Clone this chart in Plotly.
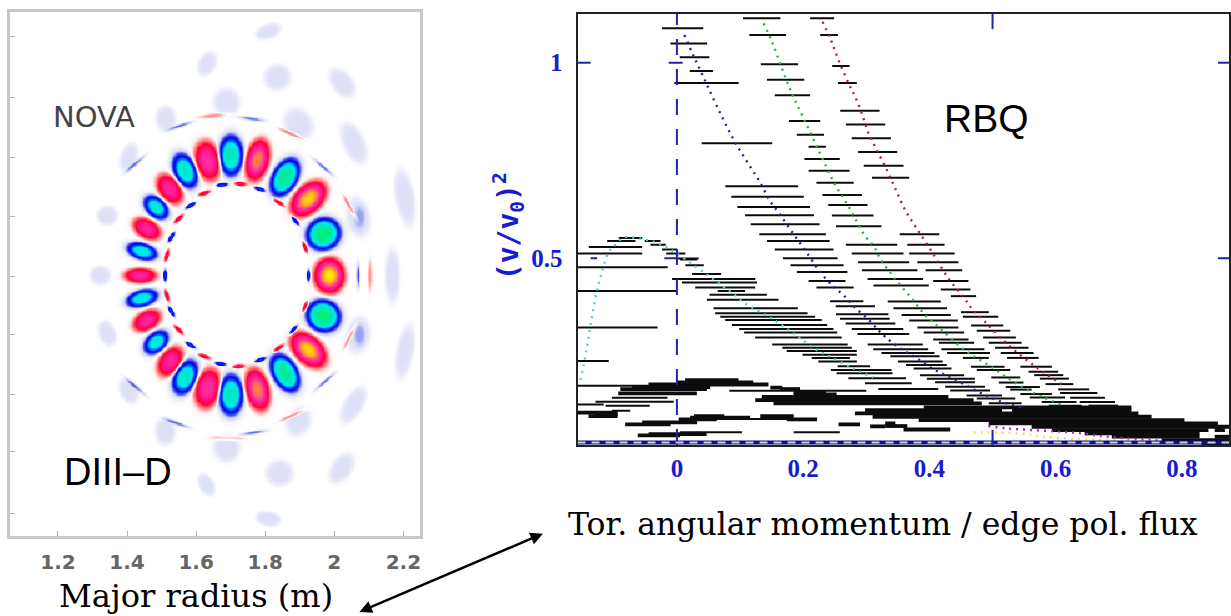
import numpy as np
import plotly.graph_objects as go

W, H = 1231, 616

# ---------- left panel: mode structure ----------
x_ticks_left = [1.2, 1.4, 1.6, 1.8, 2.0, 2.2]
x_tick_text_left = ["1.2", "1.4", "1.6", "1.8", "2", "2.2"]
y_ticks_left = [0.691, 0.517, 0.344, 0.171, 0.0, -0.169, -0.342, -0.508, -0.685]
ring_centre = (1.699, 0.003)

main_R = [1.984, 1.967, 1.9235, 1.856, 1.776, 1.699, 1.632, 1.567, 1.522, 1.483, 1.456, 1.442, 1.437, 1.442,
          1.967, 1.9235, 1.856, 1.776, 1.699, 1.632, 1.567, 1.524, 1.483, 1.456]
main_Z = [0.003, 0.123, 0.2245, 0.287, 0.337, 0.350, 0.335, 0.306, 0.253, 0.200, 0.138, 0.073, 0.003, -0.063,
          -0.1137, -0.212, -0.279, -0.327, -0.342, -0.323, -0.291, -0.2457, -0.19, -0.127]
main_amp = [1.0, -1.0, 0.95, -0.9, 0.78, -0.75, 0.58, -0.68, 0.52, -0.62, 0.52, -0.62, 0.52, -0.62,
            -1.0, 0.95, -0.9, 0.78, -0.75, 0.58, -0.68, 0.52, -0.62, 0.52]
main_radial = [0.052, 0.061, 0.072, 0.072, 0.072, 0.072, 0.067, 0.064, 0.055, 0.050, 0.050, 0.055, 0.055, 0.057,
               0.061, 0.072, 0.072, 0.072, 0.072, 0.067, 0.064, 0.055, 0.050, 0.050]
main_tang = [0.061, 0.056, 0.046, 0.044, 0.040, 0.044, 0.044, 0.041, 0.037, 0.034, 0.032, 0.029, 0.025, 0.029,
             0.056, 0.046, 0.044, 0.040, 0.044, 0.044, 0.041, 0.037, 0.034, 0.032]

inner_R = [1.509, 1.514, 1.527, 1.548, 1.582, 1.622, 1.673, 1.726, 1.782, 1.837, 1.885, 1.914, 1.924,
           1.527, 1.548, 1.582, 1.622, 1.668, 1.721, 1.784, 1.837, 1.880, 1.914, 1.514]
inner_Z = [0.003, 0.061, 0.114, 0.167, 0.205, 0.241, 0.265, 0.268, 0.253, 0.215, 0.162, 0.085, 0.003,
           -0.101, -0.154, -0.198, -0.231, -0.252, -0.260, -0.241, -0.207, -0.154, -0.087, -0.055]
inner_amp = [-0.35, 0.3, -0.35, 0.3, -0.35, 0.3, -0.35, 0.3, -0.35, 0.3, -0.35, 0.3, -0.35,
             -0.35, 0.3, -0.35, 0.3, -0.35, 0.3, -0.35, 0.3, -0.35, 0.3, 0.3]

outer_R = [1.553, 1.649, 1.760, 1.875, 1.967, 2.044, 2.068, 2.102, 1.423, 2.044, 1.972, 1.880, 1.765, 1.687, 1.543, 1.423]
outer_Z = [0.436, 0.465, 0.456, 0.412, 0.316, 0.200, 0.003, 0.003, 0.326, -0.173, -0.303, -0.400, -0.451, -0.467, -0.424, -0.318]
outer_amp = [-0.13, 0.08, -0.13, 0.12, -0.13, 0.12, -0.15, 0.08, -0.12, 0.12, -0.13, 0.12, -0.13, 0.08, -0.13, -0.12]

strong_R = [2.072, 2.072]
strong_Z = [0.171, -0.169]
strong_amp = [-0.055, -0.055]

faint_R = [1.808, 1.630, 1.834, 2.022, 1.687, 1.511, 1.895, 2.055, 1.403, 2.203, 2.068, 1.341, 1.321, 2.167,
           1.341, 2.203, 2.068, 2.054, 1.895, 2.020, 1.509, 1.687, 1.840, 1.628, 1.808, 1.403]
faint_Z = [0.709, 0.615, 0.576, 0.559, 0.504, 0.456, 0.441, 0.385, 0.345, 0.229, 0.171, 0.176, 0.003, 0.003,
           -0.164, -0.217, -0.169, -0.371, -0.419, -0.554, -0.448, -0.496, -0.568, -0.602, -0.700, -0.332]
faint_a = [0.037, 0.037, 0.039, 0.048, 0.040, 0.037, 0.048, 0.063, 0.043, 0.082, 0.058, 0.030, 0.029, 0.077,
           0.037, 0.077, 0.053, 0.058, 0.043, 0.048, 0.039, 0.040, 0.039, 0.034, 0.037, 0.039]
faint_b = [0.021, 0.024, 0.037, 0.029, 0.039, 0.029, 0.039, 0.031, 0.024, 0.027, 0.034, 0.027, 0.027, 0.021,
           0.024, 0.024, 0.034, 0.027, 0.034, 0.029, 0.029, 0.039, 0.037, 0.021, 0.021, 0.024]
faint_angle = [20, 60, 0, -50, 90, 90, -50, -65, 70, -80, -80, 0, 0, 90,
               -70, 80, 80, 60, 60, 55, 90, 90, 0, -60, -10, -60]

# ---------- right panel ----------
x_tick_right = [0, 0.2, 0.4, 0.6, 0.8]
x_tick_text_right = ["0", "0.2", "0.4", "0.6", "0.8"]
y_tick_right = [0.5, 1]
y_tick_text_right = ["0.5", "1"]

# rows are (energy, x start, x end)
blue_rows = [(1.088, -0.0236, 0.0417), (1.049, -0.0103, 0.0478), (1.014, 0.0045, 0.0514), (0.979, 0.0203, 0.0572),
             (0.948, -0.004, 0.0978), (0.794, 0.0393, 0.151), (0.684, 0.0767, 0.192), (0.657, 0.0862, 0.201),
             (0.631, 0.0957, 0.211), (0.610, 0.108, 0.217), (0.587, 0.117, 0.226), (0.561, 0.1305, 0.236),
             (0.544, 0.1427, 0.242), (0.522, 0.155, 0.248), (0.500, 0.168, 0.2545), (0.482, 0.180, 0.264),
             (0.465, 0.190, 0.270), (0.442, 0.2086, 0.267), (0.425, 0.221, 0.280), (0.390, 0.2426, 0.2954),
             (0.377, 0.2516, 0.3138), (0.357, 0.252, 0.335), (0.345, 0.2584, 0.337), (0.333, 0.2674, 0.346),
             (0.319, 0.277, 0.3585), (0.306, 0.286, 0.368), (0.2796, 0.3022, 0.3895), (0.267, 0.311, 0.398),
             (0.2575, 0.324, 0.408), (0.249, 0.338, 0.416), (0.236, 0.350, 0.421), (0.227, 0.363, 0.4275),
             (0.218, 0.375, 0.435), (0.201, 0.385, 0.455), (0.192, 0.396, 0.472), (0.1825, 0.409, 0.472),
             (0.1714, 0.425, 0.488), (0.162, 0.433, 0.496), (0.149, 0.459, 0.515), (0.141, 0.475, 0.536),
             (0.129, 0.494, 0.546), (0.1185, 0.520, 0.575)]
green_rows = [(1.114, 0.1047, 0.164), (1.071, 0.1147, 0.173), (0.996, 0.133, 0.192), (0.9565, 0.1427, 0.2017),
              (0.917, 0.155, 0.211), (0.851, 0.1775, 0.227), (0.816, 0.190, 0.233), (0.785, 0.2086, 0.236),
              (0.754, 0.202, 0.258), (0.724, 0.2086, 0.2735), (0.693, 0.221, 0.280), (0.662, 0.2305, 0.293),
              (0.636, 0.2397, 0.302), (0.6095, 0.2455, 0.3115), (0.582, 0.252, 0.324), (0.5345, 0.2677, 0.349),
              (0.512, 0.277, 0.359), (0.490, 0.287, 0.368), (0.469, 0.293, 0.381), (0.447, 0.302, 0.390),
              (0.430, 0.3115, 0.399), (0.3896, 0.334, 0.418), (0.372, 0.343, 0.428), (0.355, 0.356, 0.434),
              (0.341, 0.368, 0.445), (0.323, 0.381, 0.446), (0.310, 0.391, 0.455), (0.292, 0.406, 0.462),
              (0.284, 0.415, 0.471), (0.267, 0.419, 0.487), (0.2575, 0.428, 0.496), (0.245, 0.453, 0.494),
              (0.2225, 0.466, 0.519), (0.214, 0.475, 0.528), (0.195, 0.498, 0.544), (0.182, 0.510, 0.549),
              (0.1705, 0.521, 0.575), (0.164, 0.528, 0.562), (0.1526, 0.544, 0.594), (0.144, 0.559, 0.615),
              (0.132, 0.578, 0.633), (0.123, 0.589, 0.641), (0.113, 0.603, 0.673)]
red_rows = [(1.114, 0.211, 0.249), (1.071, 0.227, 0.255), (0.9915, 0.246, 0.2735), (0.948, 0.255, 0.285),
            (0.877, 0.2587, 0.321), (0.842, 0.2677, 0.330), (0.807, 0.277, 0.339), (0.7715, 0.287, 0.349),
            (0.7366, 0.296, 0.359), (0.706, 0.309, 0.368), (0.561, 0.353, 0.4155), (0.5345, 0.365, 0.424),
            (0.512, 0.368, 0.440), (0.490, 0.381, 0.446), (0.469, 0.394, 0.452), (0.442, 0.406, 0.4618),
            (0.420, 0.418, 0.465), (0.403, 0.434, 0.474), (0.362, 0.450, 0.494), (0.350, 0.453, 0.509),
            (0.328, 0.466, 0.517), (0.3146, 0.475, 0.528), (0.2975, 0.485, 0.537), (0.284, 0.494, 0.546),
            (0.271, 0.504, 0.557), (0.2575, 0.513, 0.565), (0.245, 0.523, 0.573), (0.2225, 0.544, 0.594),
            (0.2097, 0.557, 0.604), (0.201, 0.566, 0.612), (0.192, 0.575, 0.621), (0.178, 0.584, 0.628),
            (0.1645, 0.604, 0.653), (0.155, 0.607, 0.666), (0.143, 0.623, 0.678), (0.132, 0.638, 0.694),
            (0.123, 0.652, 0.699)]
teal_rows = [(0.5516, -0.092, -0.055), (0.544, -0.1105, -0.0657), (0.544, -0.051, -0.026), (0.5345, -0.042, -0.0177),
             (0.529, -0.1395, -0.055), (0.522, -0.0235, 0.0003), (0.512, -0.1574, -0.055), (0.512, -0.017, 0.0134),
             (0.4996, 0.0, 0.0345), (0.497, 0.005, 0.032), (0.482, 0.0134, 0.0425), (0.477, -0.1574, -0.0145),
             (0.4595, 0.024, 0.07), (0.4467, -0.0077, 0.124), (0.438, 0.008, 0.1268), (0.425, 0.029, 0.124),
             (0.416, -0.1574, 0.0003), (0.416, 0.0646, 0.108), (0.4066, 0.0517, 0.1424), (0.394, 0.0475, 0.161),
             (0.372, 0.058, 0.1915), (0.359, 0.0607, 0.207), (0.350, 0.0686, 0.219), (0.342, 0.0765, 0.2294),
             (0.329, 0.087, 0.238), (0.323, -0.1574, -0.0306), (0.319, 0.0986, 0.248), (0.310, 0.1065, 0.254),
             (0.2975, 0.124, 0.261), (0.2796, 0.151, 0.2706), (0.271, 0.167, 0.277), (0.2626, 0.174, 0.285),
             (0.253, 0.199, 0.285), (0.245, 0.2136, 0.274), (0.237, -0.1574, -0.108), (0.236, 0.224, 0.285),
             (0.2234, 0.2547, 0.306), (0.214, 0.244, 0.34), (0.2055, 0.253, 0.3415), (0.1927, 0.2716, 0.363),
             (0.18, 0.298, 0.372), (0.1654, 0.319, 0.414), (0.174, -0.1574, 0.0), (0.161, 0.083, 0.30),
             (0.126, -0.1574, -0.116), (0.1228, -0.113, -0.043), (0.1432, -0.103, -0.015), (0.133, -0.129, -0.005),
             (0.11, -0.103, -0.074), (0.0546, 0.005, 0.103), (0.0546, 0.185, 0.258), (0.0885, 0.003, 0.19)]
mass_rows = [(0.1884, 0.013, 0.0976), (0.1824, 0.0, 0.121), (0.177, -0.045, 0.145), (0.1705, -0.071, 0.0527),
             (0.1654, -0.0897, 0.0475), (0.1543, -0.093, 0.0316), (0.169, 0.148, 0.167), (0.1654, 0.1635, 0.195),
             (0.158, 0.185, 0.236), (0.152, 0.1846, 0.253), (0.145, 0.1345, 0.43), (0.1373, 0.124, 0.47),
             (0.1287, 0.153, 0.483), (0.1185, 0.391, 0.72), (0.1117, 0.298, 0.515), (0.1117, 0.531, 0.72),
             (0.1032, 0.282, 0.731), (0.0946, 0.31, 0.752), (0.0861, 0.383, 0.804), (0.0776, 0.494, 0.857),
             (0.069, 0.562, 0.876), (0.0605, 0.594, 0.842), (0.0605, 0.852, 0.868), (0.052, 0.646, 0.828),
             (0.0435, 0.689, 0.828), (0.0435, 0.852, 0.876), (0.0349, 0.768, 0.879), (0.0264, 0.831, 0.879),
             (0.0196, 0.844, 0.879), (0.0776, 0.33, 0.346), (0.0708, 0.33, 0.365), (0.062, 0.359, 0.433),
             (0.1049, -0.1574, -0.094), (0.1005, -0.13, -0.094), (0.0963, -0.14, -0.094),
             (0.0963, 0.027, 0.075), (0.0963, 0.132, 0.185), (0.0925, 0.021, 0.116), (0.0878, 0.003, 0.063),
             (0.0878, 0.174, 0.222), (0.080, -0.055, 0.032), (0.075, -0.082, -0.01), (0.075, 0.256, 0.29),
             (0.07, 0.306, 0.33), (0.05, -0.045, 0.047), (0.047, -0.062, 0.005)]

blue_curve_x = [0.0119, 0.0266, 0.0435, 0.0636, 0.0899, 0.111, 0.131, 0.148, 0.164, 0.185, 0.203, 0.2225, 0.238, 0.2485,
                0.2643, 0.282, 0.303, 0.319, 0.33, 0.354, 0.380, 0.409, 0.441, 0.488, 0.514, 0.546]
blue_curve_y = [1.071, 1.0165, 0.958, 0.888, 0.803, 0.747, 0.696, 0.645, 0.610, 0.561, 0.521, 0.4745, 0.444, 0.427,
                0.405, 0.374, 0.344, 0.316, 0.299, 0.269, 0.244, 0.214, 0.189, 0.150, 0.133, 0.1185]
green_curve_x = [0.1374, 0.1506, 0.1664, 0.182, 0.2007, 0.2244, 0.248, 0.272, 0.298, 0.3115, 0.322, 0.3427, 0.369,
                 0.391, 0.417, 0.459, 0.4935, 0.525, 0.551, 0.578, 0.61]
green_curve_y = [1.1006, 1.0537, 0.9855, 0.9216, 0.8576, 0.7766, 0.6957, 0.632, 0.5567, 0.531, 0.4996, 0.4527, 0.403,
                 0.359, 0.3205, 0.261, 0.227, 0.1927, 0.167, 0.146, 0.1245]
red_curve_x = [0.2307, 0.243, 0.256, 0.272, 0.2824, 0.293, 0.3036, 0.314, 0.3326, 0.3458, 0.3617, 0.38, 0.4037, 0.430,
               0.4538, 0.467, 0.488, 0.525, 0.572, 0.612]
red_curve_y = [1.105, 1.062, 1.007, 0.947, 0.913, 0.870, 0.819, 0.785, 0.7255, 0.6785, 0.623, 0.576, 0.5166, 0.4484,
               0.4015, 0.3717, 0.3376, 0.278, 0.218, 0.1756]
cyan_curve_x = [-0.153, -0.1477, -0.1424, -0.1387, -0.1345, -0.1292, -0.1253, -0.12, -0.1158, -0.1079, -0.1, -0.084,
                -0.0525, -0.0235, 0.045, 0.074, 0.087, 0.108, 0.150, 0.1846, 0.198, 0.2215, 0.2426, 0.2795, 0.311]
cyan_curve_y = [0.1884, 0.2268, 0.2737, 0.312, 0.350, 0.397, 0.427, 0.457, 0.4825, 0.5166, 0.53, 0.553,
                0.548, 0.534, 0.461, 0.427, 0.412, 0.3845, 0.346, 0.3078, 0.292, 0.265, 0.248, 0.218, 0.195]
purple_curve_x = [0.4933, 0.5225, 0.5625, 0.61, 0.641, 0.668, 0.694, 0.726, 0.768]
purple_curve_y = [0.0708, 0.0648, 0.0605, 0.0563, 0.052, 0.046, 0.0418, 0.0375, 0.0332]
yellow_curve_x = [0.4697, 0.541, 0.583, 0.631, 0.71, 0.752]
yellow_curve_y = [0.0546, 0.052, 0.0435, 0.0375, 0.0332, 0.0307]
axis_stripe_y = [0.0285, 0.0285]

X_RANGE = [-0.1574, 0.8746]
Y_RANGE = [0.0223, 1.1246]

# ---------- build the left field from the blob tables ----------
R = np.linspace(1.061, 2.249, 330)
Z = np.linspace(-0.751, 0.763, 420)
RR, ZZ = np.meshgrid(R, Z)
field = np.zeros_like(RR)


def add_blob(r0, z0, amp, major, minor, ang, power=1.4, edge=0.05):
    global field
    dr, dz = RR - r0, ZZ - z0
    u = dr * np.cos(ang) + dz * np.sin(ang)
    v = -dr * np.sin(ang) + dz * np.cos(ang)
    q = (u / major) ** 2 + (v / minor) ** 2
    k = np.log(abs(amp) / edge) if abs(amp) > edge * 1.2 else 1.0
    field += amp * np.exp(-k * q ** power)


for r, z, a, ra, ta in zip(main_R, main_Z, main_amp, main_radial, main_tang):
    add_blob(r, z, a, ra, ta, np.arctan2(z - ring_centre[1], r - ring_centre[0]))
for r, z, a in zip(inner_R, inner_Z, inner_amp):
    add_blob(r, z, a, 0.007, 0.021, np.arctan2(z - ring_centre[1], r - ring_centre[0]))
for r, z, a in zip(outer_R, outer_Z, outer_amp):
    add_blob(r, z, a, 0.005, 0.036, np.arctan2(z - ring_centre[1], r - ring_centre[0]))
for r, z, a, b, ang in zip(faint_R, faint_Z, faint_a, faint_b, faint_angle):
    add_blob(r, z, -0.05, a, b, np.radians(ang), power=3)
for r, z, a in zip(strong_R, strong_Z, strong_amp):
    add_blob(r, z, a, 0.034, 0.016, np.radians(90), power=2)
field = np.clip(field, -1, 1).round(3)


def cs(v):
    return (v + 1) / 2


colorscale = [
    [cs(-1), "#00f070"], [cs(-0.8), "#00e8b0"], [cs(-0.52), "#00e8f0"], [cs(-0.38), "#0050ff"],
    [cs(-0.25), "#0000e0"], [cs(-0.14), "#5060f0"], [cs(-0.08), "#c8cdf4"], [cs(-0.05), "#dde0f6"],
    [cs(-0.01), "#f6f6fd"], [cs(0), "#ffffff"], [cs(0.02), "#fff0ee"], [cs(0.08), "#ff9090"],
    [cs(0.22), "#ff0030"], [cs(0.4), "#ff1088"], [cs(0.6), "#ff30a0"], [cs(0.78), "#ff8040"], [cs(1), "#ffe800"],
]

fig = go.Figure()
fig.add_trace(go.Heatmap(x=R, y=Z, z=field, zmin=-1, zmax=1, zsmooth="best", colorscale=colorscale,
                         showscale=False, xaxis="x", yaxis="y", hoverinfo="skip"))


def segs(rows):
    xs, ys = [], []
    for y, a, b in rows:
        xs += [a, b, None]
        ys += [y, y, None]
    return xs, ys


for rows, w in [(blue_rows, 2), (green_rows, 2), (red_rows, 2), (teal_rows, 2), (mass_rows, 3.8)]:
    xs, ys = segs(rows)
    fig.add_trace(go.Scatter(x=xs, y=ys, mode="lines", line=dict(color="#0c0c0c", width=w),
                             xaxis="x2", yaxis="y2", showlegend=False, hoverinfo="skip"))

for cx, cy, col in [(blue_curve_x, blue_curve_y, "#2020a0"), (green_curve_x, green_curve_y, "#30b040"),
                    (red_curve_x, red_curve_y, "#b02030"), (cyan_curve_x, cyan_curve_y, "#50d0d0"),
                    (purple_curve_x, purple_curve_y, "#b020c0"), (yellow_curve_x, yellow_curve_y, "#f0e040")]:
    fig.add_trace(go.Scatter(x=cx, y=cy, mode="lines", line=dict(color=col, width=2.4, dash="2px,5px", shape="spline"),
                             xaxis="x2", yaxis="y2", showlegend=False, hoverinfo="skip"))

# x = 0 marker and bottom axis stripes
fig.add_trace(go.Scatter(x=[0, 0], y=Y_RANGE, mode="lines", line=dict(color="#2222a8", width=2, dash="16px,14px"),
                         xaxis="x2", yaxis="y2", showlegend=False, hoverinfo="skip"))
fig.add_trace(go.Scatter(x=X_RANGE, y=axis_stripe_y, mode="lines", line=dict(color="#10108c", width=4),
                         xaxis="x2", yaxis="y2", showlegend=False, hoverinfo="skip"))
fig.add_trace(go.Scatter(x=X_RANGE, y=axis_stripe_y, mode="lines",
                         line=dict(color="#d0d0d0", width=2, dash="8px,6px"),
                         xaxis="x2", yaxis="y2", showlegend=False, hoverinfo="skip"))

shapes = []
tick_col = "#2222a8"
for xv, y0, y1 in [(0.5, 0.965, 1.0), (0.5, 0.0, 0.035)]:
    shapes.append(dict(type="line", xref="x2", yref="y2 domain", x0=xv, x1=xv, y0=y0, y1=y1,
                       line=dict(color=tick_col, width=2)))
for yv, x0, x1 in [(1, 0.983, 1.0), (0.5, 0.983, 1.0), (1, 0.0, 0.02), (0.5, 0.02, 0.03)]:
    shapes.append(dict(type="line", xref="x2 domain", yref="y2", x0=x0, x1=x1, y0=yv, y1=yv,
                       line=dict(color=tick_col, width=2)))
for yv, x0, x1 in [(1, -0.013, 0.009), (0.5, -0.02, 0.0)]:
    shapes.append(dict(type="line", xref="x2", yref="y2", x0=x0, x1=x1, y0=yv, y1=yv,
                       line=dict(color=tick_col, width=2)))

annotations = [
    dict(text="NOVA", x=94 / W, y=1 - 117 / H, font=dict(family="DejaVu Sans", size=29, color="#444444")),
    dict(text="DIII\u2013D", x=118 / W, y=1 - 472 / H, font=dict(family="Liberation Sans", size=38, color="#000000")),
    dict(text="RBQ", x=988 / W, y=1 - 119 / H, font=dict(family="Liberation Sans", size=39, color="#000000")),
    dict(text="Major radius (m)", x=196 / W, y=1 - 596 / H,
         font=dict(family="DejaVu Serif", size=32, color="#000000")),
    dict(text="Tor. angular momentum / edge pol. flux", x=884 / W, y=1 - 524 / H,
         font=dict(family="DejaVu Serif", size=31.5, color="#000000")),
    dict(text="(v/v<sub>0</sub>)<sup>2</sup>", x=510 / W, y=1 - 226 / H, textangle=-90,
         font=dict(family="DejaVu Sans Mono", size=28, color="#1a1ad0", weight="bold")),
]
annotations = [dict(a, xref="paper", yref="paper", showarrow=False, xanchor="center", yanchor="middle")
               for a in annotations]
annotations.append(dict(x=360 / W, y=1 - 612 / H, xref="paper", yref="paper", text="", showarrow=True,
                        ax=185, ay=-79, axref="pixel", ayref="pixel", arrowhead=2, arrowside="end+start",
                        arrowwidth=2.5, arrowsize=1, arrowcolor="#000000"))

tick_font_right = dict(family="Liberation Serif", size=25, color="#1a1ad0", weight="bold")
fig.update_layout(
    width=W, height=H, margin=dict(l=0, r=0, t=0, b=0), paper_bgcolor="white", plot_bgcolor="white",
    showlegend=False, shapes=shapes, annotations=annotations,
    xaxis=dict(domain=[10 / W, 421 / W], range=[1.061, 2.249], tickvals=x_ticks_left, ticktext=x_tick_text_left,
               ticks="inside", ticklen=5, tickcolor="#b0b0b0", showgrid=False, zeroline=False,
               showline=True, linecolor="#c8c8c8", linewidth=3, mirror=True, ticklabelstandoff=6,
               tickfont=dict(family="DejaVu Sans", size=20, color="#666666", weight="bold")),
    yaxis=dict(domain=[1 - 536 / H, 1 - 12 / H], range=[-0.751, 0.763], tickvals=y_ticks_left, showticklabels=False,
               ticks="inside", ticklen=5, tickcolor="#b0b0b0", showgrid=False, zeroline=False,
               showline=True, linecolor="#c8c8c8", linewidth=3, mirror=True),
    xaxis2=dict(domain=[578.5 / W, 1.0], range=X_RANGE, tickvals=x_tick_right, ticktext=x_tick_text_right,
                anchor="y2", ticks="", showgrid=False, zeroline=False, showline=True, linecolor="#222222",
                linewidth=2, mirror=True, ticklabelstandoff=0, tickfont=tick_font_right, layer="below traces"),
    yaxis2=dict(domain=[1 - 445 / H, 1 - 14 / H], range=Y_RANGE, tickvals=y_tick_right, ticktext=y_tick_text_right,
                anchor="x2", ticks="", showgrid=False, zeroline=False, showline=True, linecolor="#222222",
                linewidth=2, mirror=True, ticklabelstandoff=8, tickfont=tick_font_right, layer="below traces"),
)

fig.write_html("out.html", config={"displayModeBar": False}, post_script="document.body.style.margin='0';")
